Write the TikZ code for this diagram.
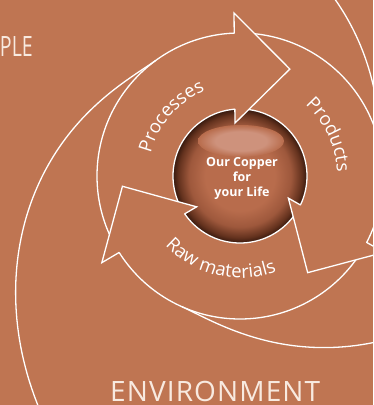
\documentclass[tikz,border=0pt]{standalone}
\usepackage{fontspec}
\setmainfont{Open Sans}
\newfontfamily\lblfont{Open Sans}
\newfontfamily\bigfont[LetterSpace=4]{Open Sans}
\newfontfamily\pplfont{Open Sans}
\usetikzlibrary{decorations.text,calc}
\definecolor{bg}{RGB}{191,117,82}
\definecolor{cream}{RGB}{248,234,224}
\definecolor{sphc}{RGB}{184,108,76}
\definecolor{sphm}{RGB}{158,88,60}
\definecolor{sphd}{RGB}{100,50,30}
\definecolor{sphe}{RGB}{55,25,14}
\definecolor{hlc}{RGB}{206,146,124}
\pgfdeclareradialshading{spheresh}{\pgfpoint{0bp}{0bp}}{color(0bp)=(sphc); color(13bp)=(sphc); color(19bp)=(sphm); color(23bp)=(sphd); color(25bp)=(sphe); color(50bp)=(sphe)}
\pgfdeclareradialshading{hlsh}{\pgfpoint{0bp}{0bp}}{color(0bp)=(hlc); color(15bp)=(hlc); color(25bp)=(sphc); color(50bp)=(sphc)}
\newcommand\labfont{\lblfont\fontsize{18.5}{21}\selectfont}
\newcommand\bigtxt{\bigfont\fontsize{28}{32}\selectfont}
\newcommand\pplfnt{\pplfont\fontsize{28}{32}\selectfont}
\newcommand\sphfont{\lblfont\bfseries\fontsize{12.5}{15}\selectfont}
\begin{document}
\begin{tikzpicture}[x=1pt,y=1pt,
  wl/.style={draw=white, line width=1.3pt},
  lbl/.style={decorate, decoration={text along path, text align=center, text color=white, text={|\labfont|#1}}}]
\useasboundingbox (0,0) rectangle (373,405);
\clip (0,0) rectangle (373,405);
\fill[bg] (0,0) rectangle (373,405);
\begin{scope}[shift={(240,229)}]
  % spirals
  \foreach \sa in {6,126,246}
    \draw[wl, line join=round] (\sa:143) -- plot[domain=0.5:115, samples=90, variable=\t] ({\sa+\t}:{143+0.062*(\t)^1.7});
  % central sphere
  \shade[shading=spheresh] (0,0) circle[radius=67];
  \shade[shading=hlsh] (1,35) ellipse[x radius=43, y radius=16];
  \draw[wl] (0,0) circle[radius=67];
  \draw[wl] (0,0) circle[radius=143];
  % arrow heads
  \foreach \rot in {0,-120,120} {
    \begin{scope}[rotate=\rot]
      \coordinate (O) at (92.1:163.1);
      \coordinate (T) at (65:118);
      \coordinate (I) at (95.4:53.2);
      \fill[bg] (O) -- (T) -- (I) -- cycle;
      \draw[wl, line cap=round, line join=miter] ($(O)!0.183!(I)$) -- (O) -- (T) -- (I) -- ($(O)!0.874!(I)$);
    \end{scope}
  }
  % labels
  \path[lbl=Processes] (189:92) arc[start angle=189, end angle=89, radius=92];
  \path[lbl=Products] (75:97) arc[start angle=75, end angle=-25, radius=97];
  \path[lbl=Raw materials] (207:102) arc[start angle=207, end angle=307, radius=102];
  \node[text=white, font=\sphfont, align=center] (core) at (2,-2) {Our Copper\\for\\your Life};
\end{scope}
\node[anchor=base east, text=cream, font=\pplfnt, inner sep=0pt, xscale=0.7] (people) at (33,348) {PEOPLE};
\node[anchor=base west, text=cream, font=\bigtxt, inner sep=0pt] (env) at (110,3) {ENVIRONMENT};
\end{tikzpicture}
\end{document}
